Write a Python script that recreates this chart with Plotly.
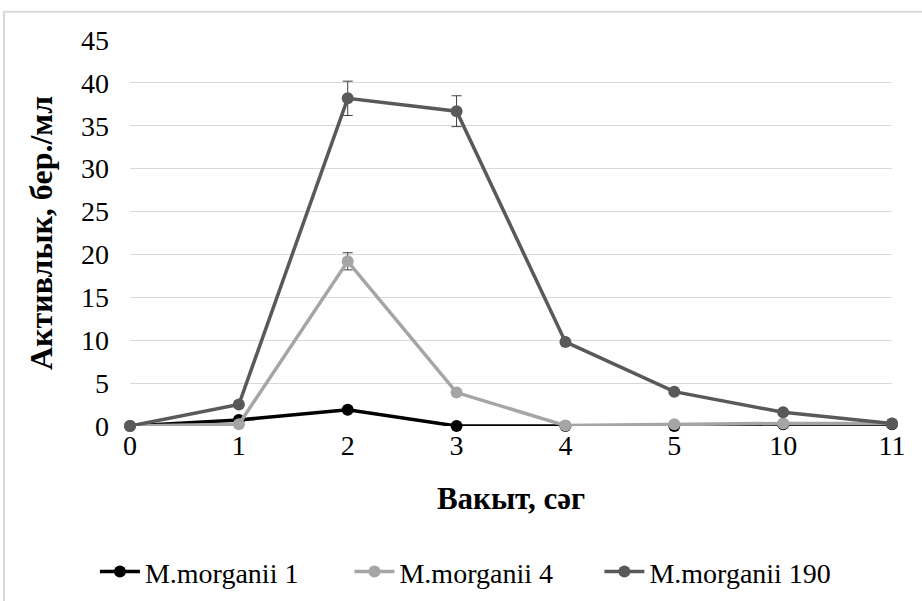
import plotly.graph_objects as go

categories = ["0", "1", "2", "3", "4", "5", "10", "11"]
m1 = [0, 0.7, 1.9, 0, 0, 0, 0.2, 0.2]
m4 = [0, 0.2, 19.2, 3.9, 0.05, 0.2, 0.3, 0.3]
m190 = [0, 2.5, 38.2, 36.7, 9.8, 4.0, 1.6, 0.3]
m4_err = [0, 0, 1.0, 0, 0, 0, 0, 0]
m190_err = [0, 0, 2.0, 1.8, 0, 0, 0, 0]

series_names = ["M.morganii 1", "M.morganii 4", "M.morganii 190"]
colors = ["#000000", "#A5A5A5", "#595959"]

FONT = "Liberation Serif, Times New Roman, Tinos, serif"

fig = go.Figure()
legend_ids = ["legend", "legend2", "legend3"]
for name, vals, err, col, lg in [
    (series_names[0], m1, None, colors[0], legend_ids[0]),
    (series_names[1], m4, m4_err, colors[1], legend_ids[1]),
    (series_names[2], m190, m190_err, colors[2], legend_ids[2]),
]:
    kw = {}
    if err is not None:
        kw["error_y"] = dict(type="data", array=err, visible=True, color="#404040",
                             thickness=1, width=5)
    fig.add_trace(go.Scatter(
        x=categories, y=vals, name=name, mode="lines+markers",
        line=dict(color=col, width=3.5),
        marker=dict(color=col, size=12),
        cliponaxis=False, legend=lg, **kw))

legend_x = [-0.046, 0.288, 0.616]
legend_common = dict(orientation="h", xanchor="left", y=-0.378, yanchor="middle",
                     font=dict(family=FONT, size=28), itemwidth=40,
                     bgcolor="rgba(0,0,0,0)", borderwidth=0)

fig.update_layout(
    width=922, height=601,
    margin=dict(l=130, r=30, t=40, b=175, autoexpand=False),
    paper_bgcolor="white", plot_bgcolor="white",
    font=dict(family=FONT, size=28, color="#000000"),
    showlegend=True,
    legend=dict(x=legend_x[0], **legend_common),
    legend2=dict(x=legend_x[1], **legend_common),
    legend3=dict(x=legend_x[2], **legend_common),
    xaxis=dict(
        type="category", range=[0, 7], showgrid=False, zeroline=False,
        showline=False, ticks="", tickfont=dict(family=FONT, size=28),
        title=dict(text="<b>Вакыт, сәг</b>", font=dict(family=FONT, size=31), standoff=27),
        automargin=False,
    ),
    yaxis=dict(
        range=[0, 45], dtick=5, showgrid=True, gridcolor="#D9D9D9", gridwidth=1.3,
        zeroline=False, showline=False, ticks="", ticklabelstandoff=20,
        tickfont=dict(family=FONT, size=28),
        title=dict(text="<b>Активлык, бер./мл</b>", font=dict(family=FONT, size=32), standoff=18),
        automargin=False,
    ),
    shapes=[dict(type="rect", xref="paper", yref="paper",
                 x0=-0.1654, x1=1.2, y0=-0.7, y1=1.073,
                 line=dict(color="#D9D9D9", width=2), fillcolor="rgba(0,0,0,0)", layer="below")],
)

fig.write_html("out.html", config={"displayModeBar": False},
               post_script="document.body.style.margin='0';")
